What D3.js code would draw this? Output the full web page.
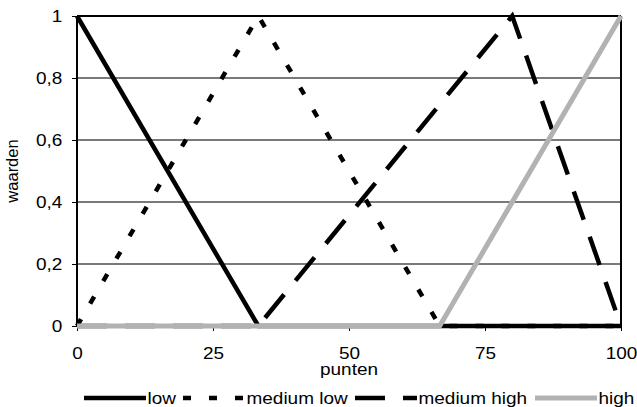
<!DOCTYPE html>
<html>
<head>
<meta charset="utf-8">
<script src="https://cdn.jsdelivr.net/npm/d3@7"></script>
<style>
  html, body { margin: 0; padding: 0; background: #fff; }
  svg { display: block; font-family: "Liberation Sans", Arial, sans-serif; }
</style>
</head>
<body>
<svg id="chart" width="637" height="407"></svg>
<script>
// Membership functions: x in punten, y in waarden
const seriesNames = ["low", "medium low", "medium high", "high"];
const lowX = [0, 100 / 3, 100];
const lowY = [1, 0, 0];
const mediumLowX = [0, 100 / 3, 200 / 3, 100];
const mediumLowY = [0, 1, 0, 0];
const mediumHighX = [0, 100 / 3, 80, 100];
const mediumHighY = [0, 0, 1, 0];
const highX = [0, 200 / 3, 100];
const highY = [0, 0, 1];
const xTicks = [0, 25, 50, 75, 100];
const yTicks = [0, 0.2, 0.4, 0.6, 0.8, 1];

const styles = [
  { color: "#000", width: 4.5, dash: null },
  { color: "#000", width: 4.5, dash: "8,18" },
  { color: "#000", width: 4.5, dash: "30,18" },
  { color: "#b2b2b2", width: 5, dash: null }
];
const seriesData = [
  lowX.map((v, i) => [v, lowY[i]]),
  mediumLowX.map((v, i) => [v, mediumLowY[i]]),
  mediumHighX.map((v, i) => [v, mediumHighY[i]]),
  highX.map((v, i) => [v, highY[i]])
];

const svg = d3.select("#chart");
const plotLeft = 77, plotRight = 621, plotTop = 16, plotBottom = 326;
const fontSize = 16.5;
const stretch = "scale(1.15,1)"; // wide label lettering

const x = d3.scaleLinear().domain([0, 100]).range([plotLeft, plotRight]);
const y = d3.scaleLinear().domain([0, 1]).range([plotBottom, plotTop]);
const fmt = d => String(d3.format("~g")(d)).replace(".", ",");

// horizontal gridlines
svg.append("g").selectAll("line").data(yTicks.filter(t => t > 0 && t < 1)).join("line")
  .attr("x1", plotLeft).attr("x2", plotRight)
  .attr("y1", d => y(d)).attr("y2", d => y(d))
  .attr("stroke", "#7a7a7a").attr("stroke-width", 1.5)
  .attr("shape-rendering", "crispEdges");

// plot frame top and right
svg.append("line").attr("x1", plotLeft).attr("x2", plotRight).attr("y1", y(1)).attr("y2", y(1))
  .attr("stroke", "#000").attr("stroke-width", 1.5).attr("shape-rendering", "crispEdges");
svg.append("line").attr("x1", plotRight).attr("x2", plotRight).attr("y1", plotTop).attr("y2", plotBottom)
  .attr("stroke", "#000").attr("stroke-width", 1.5).attr("shape-rendering", "crispEdges");

// axes
const yAxis = d3.axisLeft(y).tickValues(yTicks).tickFormat(fmt).tickSize(5).tickPadding(7.8);
const gy = svg.append("g").attr("transform", `translate(${plotLeft},0)`).call(yAxis);
const xAxis = d3.axisBottom(x).tickValues(xTicks).tickSize(5).tickPadding(16);
const gx = svg.append("g").attr("transform", `translate(0,${plotBottom})`).call(xAxis);
[gx, gy].forEach(g => {
  g.select(".domain").attr("stroke", "#000").attr("stroke-width", 1.5)
    .attr("shape-rendering", "crispEdges");
  g.selectAll(".tick line").attr("stroke", "#000").attr("stroke-width", 1);
  g.selectAll(".tick text").attr("font-size", fontSize).attr("fill", "#000")
    .attr("font-family", "'Liberation Sans', Arial, sans-serif")
    .attr("transform", stretch);
});
gx.select(".domain").attr("d", `M${plotLeft},0H${plotRight}`);
gy.select(".domain").attr("d", `M0,${plotTop}V${plotBottom}`);

// series lines
const line = d3.line().x(d => x(d[0])).y(d => y(d[1]));
seriesData.forEach((data, i) => {
  svg.append("path").datum(data)
    .attr("d", line)
    .attr("fill", "none")
    .attr("stroke", styles[i].color)
    .attr("stroke-width", styles[i].width)
    .attr("stroke-dasharray", styles[i].dash)
    .attr("stroke-linejoin", "miter");
});

// axis titles
svg.append("text").attr("transform", `translate(${x(50)},375) ${stretch}`)
  .attr("text-anchor", "middle").attr("font-size", fontSize).text("punten");
svg.append("text").attr("transform", `translate(18,${(plotTop + plotBottom) / 2}) rotate(-90)`)
  .attr("text-anchor", "middle").attr("font-size", fontSize).text("waarden");

// legend
const legendX = [84, 183, 355, 535];
const legend = svg.append("g");
seriesNames.forEach((name, i) => {
  const g = legend.append("g").attr("transform", `translate(${legendX[i]},398)`);
  g.append("line").attr("x1", 0).attr("x2", 62).attr("y1", 0).attr("y2", 0)
    .attr("stroke", styles[i].color).attr("stroke-width", styles[i].width)
    .attr("stroke-dasharray", styles[i].dash);
  g.append("text").attr("transform", `translate(63.5,5.5) ${stretch}`)
    .attr("font-size", fontSize).text(name);
});
</script>
</body>
</html>
